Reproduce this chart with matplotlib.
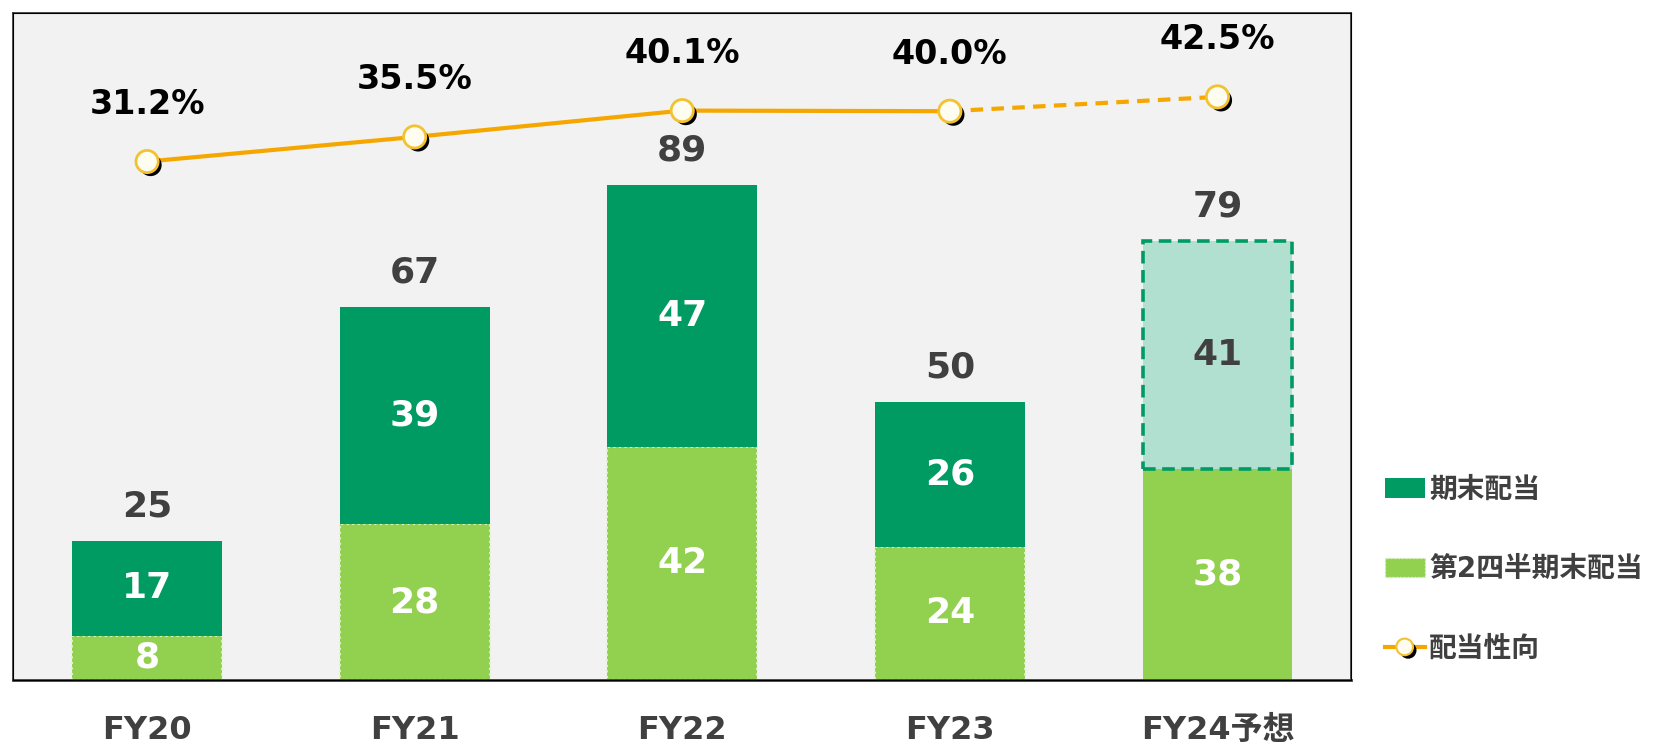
import numpy as np
import matplotlib
matplotlib.use('Agg')
import matplotlib.pyplot as plt
import matplotlib.patheffects as pe
from matplotlib.patches import Patch
from matplotlib.lines import Line2D

plt.rcParams['font.family'] = ['DejaVu Sans', 'Noto Sans CJK JP']
plt.rcParams['font.weight'] = 'bold'

# データ
cats = ['FY20', 'FY21', 'FY22', 'FY23', 'FY24予想']
q2_div = [8, 28, 42, 24, 38]        # 第2四半期末配当
ye_div = [17, 39, 47, 26, 41]       # 期末配当
totals = [25, 67, 89, 50, 79]
payout = [31.2, 35.5, 40.1, 40.0, 42.5]  # 配当性向(%)

DARK = '#009B63'
LIGHT = '#92D050'
PALE = '#B2E0D0'
ORANGE = '#F5A700'
GREY = '#404040'

fig = plt.figure(figsize=(16.58, 7.49), dpi=100)
ax = fig.add_axes([0.008, 0.092, 0.807, 0.891])
ax.set_facecolor('#F2F2F2')
x = np.arange(len(cats))
w = 0.56

# 下段（第2四半期末）
for i in x:
    if i < 4:
        ax.bar(i, q2_div[i], w, color=LIGHT, edgecolor='#E0F2D0', linestyle=':', lw=1.5)
    else:
        ax.bar(i, q2_div[i], w, color=LIGHT, lw=0)
# 上段（期末）
for i in x:
    if i < 4:
        ax.bar(i, ye_div[i], w, bottom=q2_div[i], color=DARK, lw=0)
    else:
        ax.bar(i, ye_div[i], w, bottom=q2_div[i], color=PALE, edgecolor=DARK,
               lw=2.6, linestyle=(0, (3.5, 1.8)))

# 数値ラベル
for i in x:
    ax.text(i, q2_div[i] / 2, str(q2_div[i]), ha='center', va='center',
            color='white', fontsize=26, fontweight='bold')
    ax.text(i, q2_div[i] + ye_div[i] / 2, str(ye_div[i]), ha='center', va='center',
            color=GREY if i == 4 else 'white', fontsize=26, fontweight='bold')
    ax.annotate(str(totals[i]), (i, totals[i]), xytext=(0, 25), textcoords='offset points',
                ha='center', va='center', color=GREY, fontsize=26, fontweight='bold')

ax.set_xlim(-0.5, 4.5)
ax.set_ylim(0, 120)
ax.set_yticks([])
ax.set_xticks(x)
ax.set_xticklabels(cats, fontsize=23, fontweight='bold', color=GREY)
ax.tick_params(axis='x', length=0, pad=25)
for s in ax.spines.values():
    s.set_color(GREY)
    s.set_linewidth(1.3)
ax.spines['bottom'].set_linewidth(2)

# 配当性向（第2軸）
ax2 = ax.twinx()
ax2.set_ylim(-59.4, 57.2)
ax2.set_yticks([])
ax2.plot(x[:4], payout[:4], color=ORANGE, lw=3, solid_capstyle='round')
ax2.plot(x[3:], payout[3:], color=ORANGE, lw=3, linestyle=(0, (3, 2)))
shadow = [pe.SimplePatchShadow(offset=(2.5, -2.5), shadow_rgbFace='black', alpha=1), pe.Normal()]
ax2.plot(x, payout, linestyle='none', marker='o', ms=16, mfc='#FFFDF0', mec='#F2C230',
         mew=2, path_effects=shadow, zorder=5)
for i in x:
    ax2.annotate(f'{payout[i]:.1f}%', (i, payout[i]), xytext=(0, 41), textcoords='offset points',
                 ha='center', va='center', color='black', fontsize=24, fontweight='bold')

# 凡例
handles = [
    Patch(facecolor=DARK, edgecolor='none', label='期末配当'),
    Patch(facecolor=LIGHT, edgecolor='#E0F2D0', linestyle=':', label='第2四半期末配当'),
    Line2D([0], [0], color=ORANGE, lw=3, marker='o', ms=12, mfc='#FFFDF0', mec='#F2C230',
           mew=1.5, path_effects=shadow, label='配当性向'),
]
fig.legend(handles=handles, loc='center left', bbox_to_anchor=(0.82, 0.24),
           frameon=False, labelcolor=GREY, handlelength=1.45,
           handletextpad=0.15, labelspacing=1.85, prop={'weight': 'bold', 'size': 20})

fig.savefig('out.png', dpi=100)
